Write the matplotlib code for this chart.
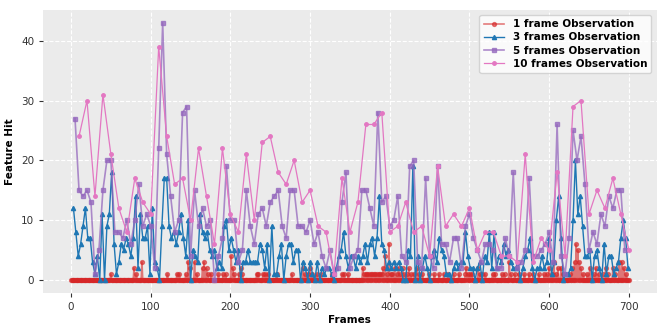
import numpy as np
import matplotlib
matplotlib.use("Agg")
import matplotlib.pyplot as plt

# 1 frame: mostly zero, only the non-zero frames are listed
one_frame_last = 700
one_spike_frames = [50, 79, 82, 89, 121, 133, 136, 144, 147, 149, 155, 158, 165, 167, 170, 172, 176,
                    185, 191, 194, 201, 203, 205, 211, 213, 215, 233, 235, 241, 244, 247, 258, 277,
                    291, 294, 297, 300, 303, 309, 314, 327, 340, 343, 348, 366, 368, 370, 372, 374,
                    376, 378, 380, 382, 384, 386, 388, 390, 392, 394, 396, 399, 401, 403, 406, 409,
                    411, 413, 416, 418, 421, 424, 427, 431, 434, 437, 441, 449, 456, 462, 468, 473,
                    480, 487, 495, 496, 498, 501, 503, 511, 513, 516, 520, 529, 532, 541, 544, 550,
                    552, 557, 562, 569, 575, 580, 587, 594, 597, 600, 603, 606, 608, 611, 615, 618,
                    626, 629, 632, 634, 636, 638, 640, 643, 648, 651, 656, 659, 662, 667, 671, 674,
                    680, 683, 688, 691, 694, 697]
one_spike_vals = [1, 2, 1, 3, 1, 1, 1, 1, 3, 2, 3, 1, 2, 3, 2, 1, 1,
                  1, 1, 1, 4, 2, 1, 1, 2, 1, 1, 1, 1, 1, 1, 1, 1,
                  2, 1, 1, 2, 1, 1, 1, 1, 1, 1, 1, 2, 1, 1, 1, 1,
                  1, 1, 1, 1, 1, 1, 1, 1, 2, 4, 1, 6, 1, 1, 2, 1,
                  2, 1, 2, 1, 1, 2, 1, 1, 2, 1, 1, 1, 1, 1, 1, 1,
                  1, 1, 1, 2, 1, 1, 1, 2, 1, 1, 1, 1, 1, 1, 1, 3,
                  1, 1, 1, 1, 1, 1, 1, 1, 1, 2, 1, 3, 1, 2, 2, 1,
                  1, 2, 3, 6, 5, 3, 2, 1, 1, 2, 1, 2, 1, 1, 2, 1,
                  2, 1, 3, 3, 2, 1]

# 3 frames: frames 3, 6, ..., 699
three_vals = [12, 8, 4, 6, 9, 12, 7, 7, 3, 1, 4, 0, 11, 0, 9, 11, 18, 6, 1, 3,
              6, 5, 7, 6, 4, 7, 14, 2, 11, 7, 7, 9, 1, 12, 3, 2, 0,
              9, 17, 17, 9, 7, 8, 6, 8, 11, 7, 4, 10, 0, 5, 4, 3, 11, 8, 7, 8,
              5, 4, 5, 2, 3, 2, 9, 10, 5, 7, 5, 3, 5, 0, 3, 3, 5, 3, 3, 3,
              3, 6, 5, 2, 6, 0, 9, 1, 1, 4, 6, 0, 4, 6, 6, 3, 5, 5, 0, 3,
              2, 0, 3, 1, 0, 3, 0, 2, 1, 2, 2, 1, 0, 2, 4, 5, 8, 4, 2, 4,
              4, 2, 4, 3, 4, 6, 3, 6, 7, 4, 7, 14, 6, 5, 2, 3, 2, 3, 2, 3,
              2, 0, 0, 5, 4, 19, 0, 4, 0, 2, 4, 2, 0, 4, 5, 3, 7, 5, 4,
              1, 1, 0, 2, 3, 2, 3, 3, 8, 4, 2, 2, 0, 2, 3, 0, 4, 3, 8, 2,
              8, 2, 4, 3, 6, 4, 5, 3, 2, 2, 3, 0, 2, 4, 5, 7, 2, 0, 2, 2,
              4, 2, 3, 7, 1, 3, 10, 14, 7, 0, 1, 1, 2, 10, 20, 11, 14, 9, 4, 4,
              5, 0, 4, 5, 2, 0, 6, 1, 4, 4, 1, 2, 3, 7, 10, 7, 2]

# 5 frames: frames 5, 10, ..., 695
five_vals = [27, 15, 14, 15, 13, 1, 5, 15, 20, 20, 8, 8, 7, 10, 6, 10, 16, 9, 11, 9,
             2, 22, 43, 21, 14, 8, 10, 28, 29, 4, 15, 9, 12, 9, 10, 0, 4, 7, 19, 10,
             10, 3, 5, 15, 9, 6, 11, 12, 9, 13, 14, 15, 9, 7, 15, 15, 9, 9, 8, 10,
             6, 8, 4, 2, 5, 1, 2, 13, 18, 2, 4, 5, 15, 15, 12, 9, 28, 13, 14, 9,
             10, 14, 4, 3, 19, 20, 3, 2, 17, 4, 2, 19, 6, 6, 3, 7, 7, 2, 9, 11,
             7, 5, 3, 6, 6, 5, 2, 2, 7, 4, 18, 2, 3, 5, 17, 4, 4, 5, 6, 8,
             3, 26, 4, 1, 7, 25, 20, 24, 16, 5, 8, 6, 11, 9, 14, 12, 15, 15, 5]

# 10 frames: frames 10, 20, ..., 700
ten_vals = [24, 30, 14, 31, 21, 12, 8, 17, 13, 11, 39, 24, 16, 17, 10, 22, 14, 6, 22, 11,
            8, 21, 10, 23, 24, 18, 16, 20, 13, 15, 9, 8, 1, 17, 8, 13, 26, 26, 28, 8,
            9, 13, 8, 9, 4, 19, 9, 11, 9, 12, 5, 8, 8, 4, 4, 3, 21, 3, 7, 5,
            18, 4, 29, 30, 11, 15, 12, 17, 11, 5]

one_x = np.arange(0, one_frame_last + 1)
one_vals = np.zeros(len(one_x))
one_vals[one_spike_frames] = one_spike_vals
three_x = np.arange(3, 3 * len(three_vals) + 1, 3)
five_x = np.arange(5, 5 * len(five_vals) + 1, 5)
ten_x = np.arange(10, 10 * len(ten_vals) + 1, 10)

fig = plt.figure(figsize=(6.64, 3.32), dpi=100)
ax = fig.add_axes([0.065, 0.118, 0.924, 0.852])
ax.set_facecolor('#EBEBEB')
for s in ax.spines.values():
    s.set_visible(False)
ax.grid(True, color='white', linestyle='--', linewidth=0.8)
ax.set_axisbelow(True)

ax.plot(one_x, one_vals, color='#d62728', marker='o', markersize=2.8, linewidth=1.2,
        alpha=0.6, label='1 frame Observation')
ax.plot(three_x, three_vals, color='#1f77b4', marker='^', markersize=3, linewidth=1.0,
        label='3 frames Observation')
ax.plot(five_x, five_vals, color='#9467bd', marker='s', markersize=3, linewidth=1.2,
        alpha=0.75, label='5 frames Observation')
ax.plot(ten_x, ten_vals, color='#e377c2', marker='o', markersize=2.5, linewidth=0.9,
        label='10 frames Observation')

ax.set_xticks(np.arange(0, 701, 100))
ax.set_yticks(np.arange(0, 41, 10))
ax.tick_params(labelsize=7.5, colors='#333333', length=3)
ax.set_xlabel('Frames', fontsize=7.5, fontweight='bold', labelpad=2)
ax.set_ylabel('Feature Hit', fontsize=7.5, fontweight='bold', labelpad=4)
leg = ax.legend(loc='upper right', prop={'weight': 'bold', 'size': 7.5},
                facecolor='white', framealpha=0.8, handlelength=2,
                borderpad=0.4, labelspacing=0.3)

fig.savefig('out.png', dpi=100)
